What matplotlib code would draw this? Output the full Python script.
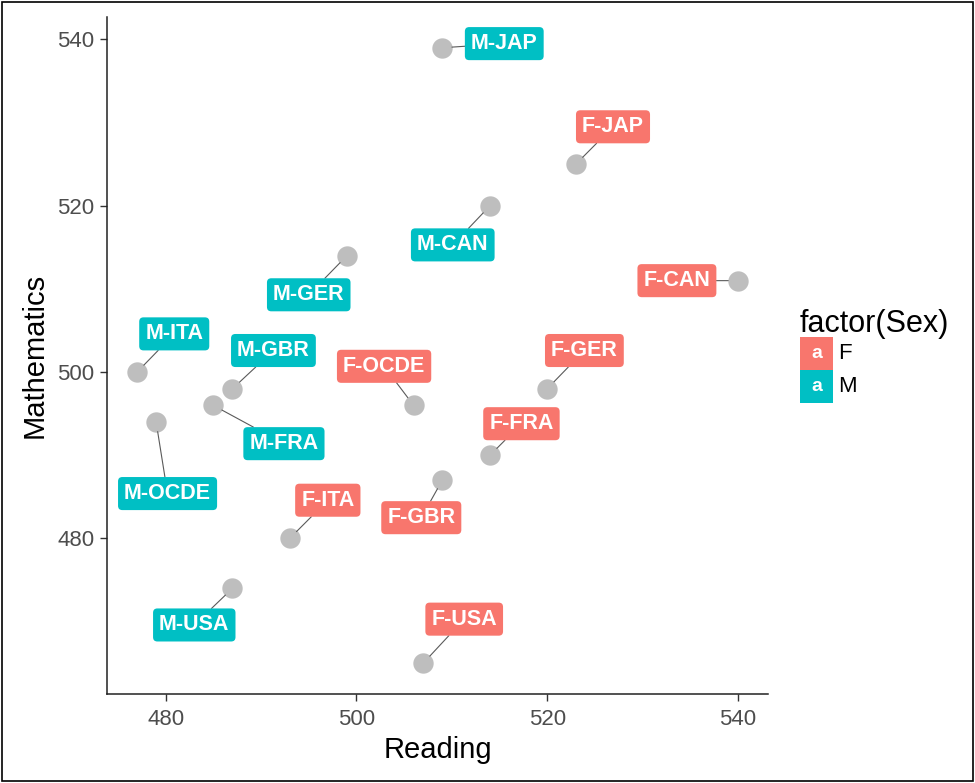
import matplotlib.pyplot as plt
from matplotlib.patches import Rectangle

plt.rcParams['font.family'] = ['Liberation Sans', 'DejaVu Sans']

# PISA scores by country and sex
countries = ['JAP', 'CAN', 'GER', 'GBR', 'FRA', 'ITA', 'USA', 'OCDE']
reading_f = [523, 540, 520, 509, 514, 493, 507, 506]
maths_f = [525, 511, 498, 487, 490, 480, 465, 496]
reading_m = [509, 514, 499, 487, 485, 477, 487, 479]
maths_m = [539, 520, 514, 498, 496, 500, 474, 494]

# where the repelled labels ended up (data units)
lab_f = [(526.9, 529.5), (533.6, 511.0), (523.9, 502.6), (506.8, 482.5),
         (517.3, 493.8), (497.0, 484.6), (511.3, 470.3), (502.9, 500.7)]
lab_m = [(515.5, 539.5), (510.1, 515.3), (495.0, 509.3), (491.3, 502.6),
         (492.4, 491.4), (480.9, 504.6), (483.0, 469.6), (480.2, 485.4)]

col = {'F': '#F8766D', 'M': '#00BFC4'}
W, H = 975, 783

fig = plt.figure(figsize=(W / 100, H / 100), dpi=100)
ax = fig.add_axes([107 / W, 1 - 694 / H, (768 - 107) / W, (694 - 17) / H])

for s, rx, my, labs in [('F', reading_f, maths_f, lab_f),
                        ('M', reading_m, maths_m, lab_m)]:
    ax.scatter(rx, my, s=215, color='#BEBEBE', zorder=2, linewidths=0)
    for c, x, y, (lx, ly) in zip(countries, rx, my, labs):
        ax.annotate(s + '-' + c, xy=(x, y), xytext=(lx, ly),
                    ha='center', va='center', fontsize=15.5, fontweight='bold',
                    color='white', zorder=3,
                    bbox=dict(boxstyle='round,pad=0.28,rounding_size=0.2',
                              fc=col[s], ec='none'),
                    arrowprops=dict(arrowstyle='-', color='#5a5a5a', lw=0.8,
                                    shrinkA=0, shrinkB=7))

ax.set_xlim(473.85, 543.15)
ax.set_ylim(461.3, 542.7)
ax.set_xticks([480, 500, 520, 540])
ax.set_yticks([480, 500, 520, 540])
for side in ['top', 'right']:
    ax.spines[side].set_visible(False)
for side in ['left', 'bottom']:
    ax.spines[side].set_color('#222222')
    ax.spines[side].set_linewidth(1.1)
ax.tick_params(colors='#333333', labelcolor='#4D4D4D', labelsize=16,
               length=5, width=1)
ax.tick_params(axis='x', pad=6)
ax.tick_params(axis='y', pad=4)
ax.set_xlabel('Reading', fontsize=21, labelpad=4)
ax.set_ylabel('Mathematics', fontsize=21, labelpad=6)

# legend drawn by hand, ggplot style
def fx(px):
    return px / W

def fy(py):
    return 1 - py / H

fig.text(fx(800), fy(332), 'factor(Sex)', fontsize=22, va='baseline', ha='left')
for i, s in enumerate(['F', 'M']):
    top = 337 + i * 33
    fig.add_artist(Rectangle((fx(800), fy(top + 33)), 33 / W, 33 / H,
                             transform=fig.transFigure, fc=col[s], ec='none'))
    fig.text(fx(816.5), fy(top + 16.5), 'a', color='white', fontsize=14,
             fontweight='bold', ha='center', va='center')
    fig.text(fx(838), fy(top + 16.5), s, fontsize=16, ha='left', va='center')

fig.add_artist(Rectangle((2 / W, 2 / H), 1 - 4 / W, 1 - 4 / H,
                         transform=fig.transFigure, fill=False,
                         ec='black', lw=1.2))

fig.savefig('out.png', dpi=100)
